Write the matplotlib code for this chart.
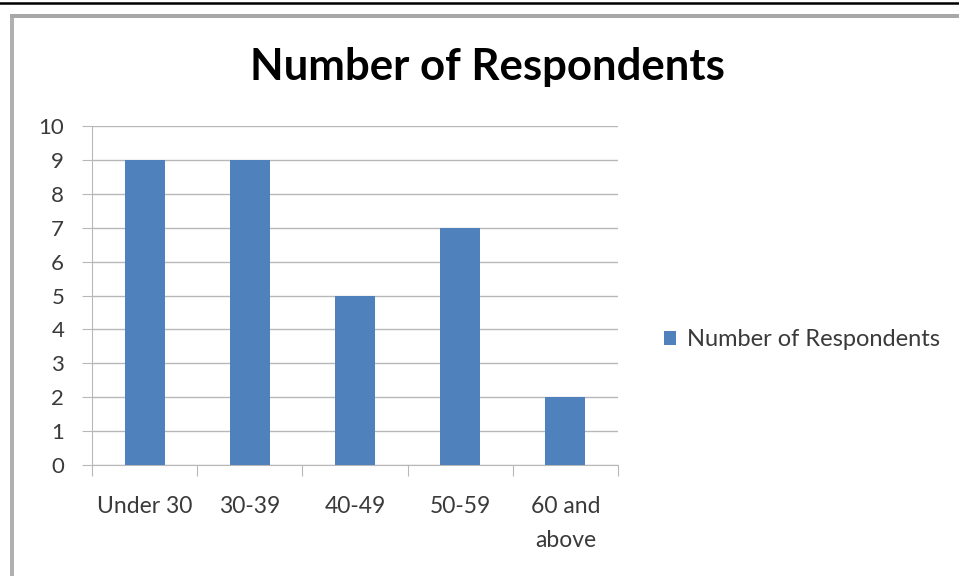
import matplotlib
matplotlib.use("Agg")
import matplotlib.pyplot as plt
from matplotlib.patches import Rectangle
from matplotlib.lines import Line2D

plt.rcParams['font.family'] = ['Lato', 'DejaVu Sans']

categories = ["Under 30", "30-39", "40-49", "50-59", "60 and\nabove"]
respondents = [9, 9, 5, 7, 2]
y_ticks = list(range(0, 11))

bar_color = "#4f81bd"
grid_color = "#b8b8b8"
text_color = "#3a3a3a"

W, H = 959, 576
fig = plt.figure(figsize=(W / 100, H / 100), dpi=100)

# page rule and chart frame
fig.add_artist(Line2D([0, 1], [1 - 2.5 / H, 1 - 2.5 / H], color="black", lw=1.8))
fig.add_artist(Rectangle((10 / W, 0), 4 / W, 1 - 14 / H, color="#b0b0b0", lw=0))
fig.add_artist(Rectangle((10 / W, 1 - 18 / H), 1, 4 / H, color="#a8a8a8", lw=0))

ax = fig.add_axes([92 / W, (H - 465) / H, (618 - 92) / W, (465 - 126) / H])
x = range(len(categories))
ax.bar(x, respondents, width=0.38, color=bar_color, zorder=3,
       label="Number of Respondents")

ax.set_xlim(-0.5, len(categories) - 0.5)
ax.set_ylim(0, 10)
ax.set_yticks(y_ticks)
ax.set_yticklabels([str(v) for v in y_ticks], fontsize=16, color=text_color)
ax.yaxis.grid(True, color=grid_color, lw=1, zorder=0)

ax.set_xticks([i - 0.5 for i in range(len(categories) + 1)], minor=False)
ax.set_xticklabels([])
ax.set_xticks(list(x), minor=True)
ax.set_xticklabels(categories, minor=True, fontsize=16.5, color=text_color,
                   linespacing=1.8, va="top")
ax.tick_params(axis="x", which="minor", length=0, pad=22)
ax.tick_params(axis="x", which="major", length=8, color=grid_color)
ax.tick_params(axis="y", length=7, color=grid_color, pad=13)

for side in ["top", "right"]:
    ax.spines[side].set_visible(False)
for side in ["left", "bottom"]:
    ax.spines[side].set_color(grid_color)

fig.text(487 / W, 1 - 67 / H, "Number of Respondents", fontsize=31.5,
         fontweight="bold", ha="center", va="center", color="black")

fig.legend(loc="center left", bbox_to_anchor=(643 / W, 1 - 340 / H),
           frameon=False, fontsize=17, handlelength=0.5, handleheight=0.5,
           handletextpad=0.45, labelcolor=text_color)

fig.savefig("out.png", dpi=100)
